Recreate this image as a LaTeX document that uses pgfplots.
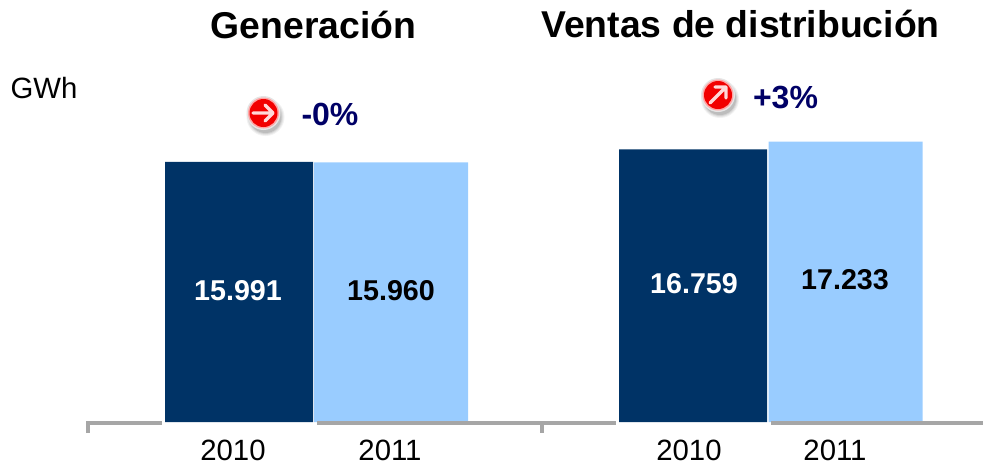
\documentclass[border=0pt]{standalone}
\usepackage{fontspec}
\setmainfont{Liberation Sans}
\usepackage{pgfplots}
\pgfplotsset{compat=1.18}
\definecolor{navybar}{HTML}{003366}
\definecolor{skybar}{HTML}{99CCFF}
\definecolor{axisgray}{HTML}{A6A6A6}
\definecolor{pctblue}{HTML}{000066}
% one reference pixel is 0.75pt; annotations use pixel coordinates from the top left
\newcommand{\redball}[2]{%
  \foreach \r/\o in {19/0.05,18/0.06,17/0.08,16/0.10}{\fill[black,opacity=\o] (#1+2,#2+4) circle (\r);}
  \fill[white!90!black] (#1,#2) circle (17);
  \fill[red!35!white] (#1,#2) circle (15.5);
  \fill[red!95!black] (#1,#2) circle (14);
}
\begin{document}
\begin{tikzpicture}[x=0.75pt,y=-0.75pt]
\useasboundingbox (0,0) rectangle (983,465);
\begin{axis}[
  at={(66pt,-316.5pt)},
  anchor=south west,
  x=0.75pt, y=0.012207pt,
  xmin=88, xmax=983,
  ymin=0, ymax=25921,
  axis x line=bottom,
  axis y line=none,
  axis line style={draw=none},
  xtick={233,390,689,835},
  xticklabels={2010,2011,2010,2011},
  major tick length=0pt,
  tick label style={font=\fontsize{22}{26}\selectfont, yshift=-10pt},
  ybar,
  bar shift=0pt,
  clip=false,
]
\addplot[fill=navybar, draw=none, bar width=148] coordinates {(239,15991) (693,16759)};
\addplot[fill=skybar, draw=none, bar width=154] coordinates {(391,15960) (845.5,17233)};
\end{axis}
% axis line with its two group ticks; it stops under the dark bars
\draw[axisgray,line width=2.6pt] (88,433) -- (88,423) -- (162,423);
\draw[axisgray,line width=2.6pt] (317,423) -- (616,423);
\draw[axisgray,line width=2.6pt] (771,423) -- (983,423);
\draw[axisgray,line width=2.6pt] (542,423) -- (542,433);
\node[font=\bfseries\fontsize{28}{32}\selectfont] at (313.5,25) {Generación};
\node[font=\bfseries\fontsize{28}{32}\selectfont] at (740.5,24) {Ventas de distribución};
\node[font=\fontsize{22}{26}\selectfont] at (44,88) {GWh};
\node[font=\bfseries\fontsize{21.5}{25}\selectfont, text=white] at (238,291) {15.991};
\node[font=\bfseries\fontsize{21.5}{25}\selectfont, text=black] at (391,291) {15.960};
\node[font=\bfseries\fontsize{21.5}{25}\selectfont, text=white] at (694,284) {16.759};
\node[font=\bfseries\fontsize{21.5}{25}\selectfont, text=black] at (845,280) {17.233};
\redball{263.5}{113}
\draw[red!15!white,line width=2.6pt,line cap=round,line join=round] (253,113) -- (273,113) (265,105) -- (273,113) -- (265,121);
\redball{718}{95}
\draw[red!15!white,line width=2.6pt,line cap=round,line join=round] (710,103) -- (726,87) (715,87) -- (726,87) -- (726,98);
\node[font=\bfseries\fontsize{24}{28}\selectfont, text=pctblue] at (330,114) {-0\%};
\node[font=\bfseries\fontsize{24}{28}\selectfont, text=pctblue] at (785.5,98) {+3\%};
\end{tikzpicture}
\end{document}
